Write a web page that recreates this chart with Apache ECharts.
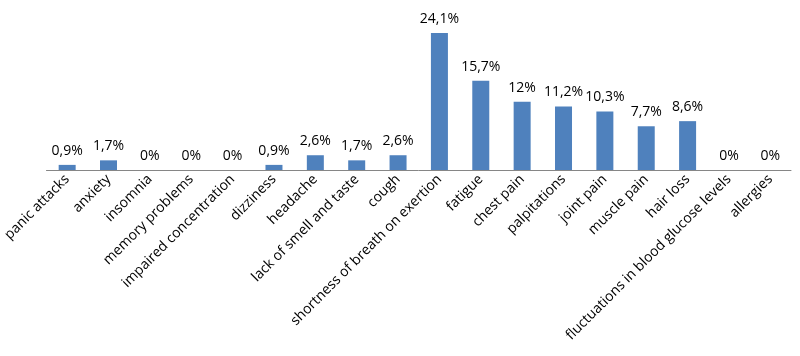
<!DOCTYPE html>
<html>
<head>
<meta charset="utf-8">
<script src="https://cdn.jsdelivr.net/npm/echarts@6/dist/echarts.min.js"></script>
<style>html,body{margin:0;padding:0;background:#fff;}#c{width:800px;height:356px;}</style>
</head>
<body>
<div id="c"></div>
<script>
const categories = ["panic attacks","anxiety","insomnia","memory problems","impaired concentration","dizziness","headache","lack of smell and taste","cough","shortness of breath on exertion","fatigue","chest pain","palpitations","joint pain","muscle pain","hair loss","fluctuations in blood glucose levels","allergies"];
const values = [0.9,1.7,0,0,0,0.9,2.6,1.7,2.6,24.1,15.7,12,11.2,10.3,7.7,8.6,0,0];

const chart = echarts.init(document.getElementById('c'));
chart.setOption({
  animation: false,
  textStyle: {fontFamily: 'Open Sans'},
  grid: {left: 44, right: 9, top: 28, bottom: 186},
  xAxis: {
    type: 'category',
    data: categories,
    axisLine: {lineStyle: {color: '#868686', width: 1}},
    axisTick: {show: false},
    axisLabel: {interval: 0, rotate: 45, color: '#000', fontSize: 14, margin: 7, fontFamily: 'Open Sans'}
  },
  yAxis: {
    type: 'value', min: 0, max: 25,
    show: false,
    splitLine: {show: false}
  },
  series: [{
    type: 'bar',
    data: values,
    barWidth: 17,
    itemStyle: {color: '#4F81BD'},
    label: {
      show: true, position: 'top', distance: 7, color: '#000', fontSize: 14, fontFamily: 'Open Sans',
      formatter: p => String(p.value).replace('.', ',') + '%'
    }
  }]
});
</script>
</body>
</html>
